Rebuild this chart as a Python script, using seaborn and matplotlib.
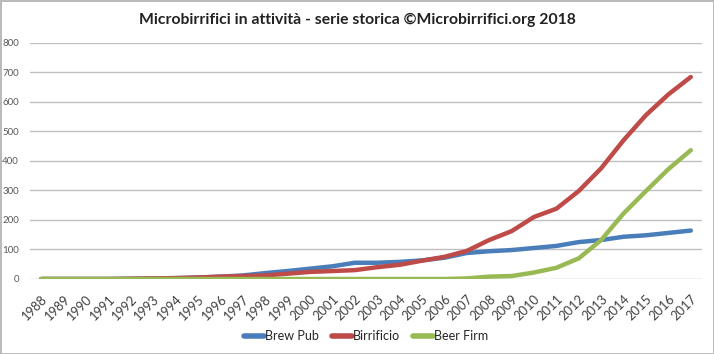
import pandas as pd
import seaborn as sns
import matplotlib.pyplot as plt

years = list(range(1988, 2018))
brew_pub = [0, 0, 0, 0, 1, 2, 3, 5, 8, 12, 20, 27, 35, 43, 55, 55, 58, 63, 72, 88,
            94, 98, 105, 112, 125, 132, 143, 148, 156, 164]
birrificio = [0, 0, 0, 0, 1, 2, 3, 5, 8, 10, 12, 18, 24, 27, 30, 40, 48, 62, 75, 95,
              132, 162, 210, 238, 298, 375, 470, 555, 625, 684]
beer_firm = [0, 0, 0, 0, 0, 0, 0, 0, 0, 0, 0, 0, 0, 0, 0, 0, 0, 0, 0, 2,
             8, 10, 22, 38, 70, 132, 222, 298, 372, 436]
series = ["Brew Pub", "Birrificio", "Beer Firm"]
colors = ["#4A7EBB", "#BE4B48", "#98B954"]

df = pd.DataFrame({"anno": years * 3,
                   "valore": brew_pub + birrificio + beer_firm,
                   "serie": [s for s in series for _ in years]})
df["pos"] = df["anno"] - years[0]

sns.set_theme(style="white")
plt.rcParams['font.family'] = ['Lato', 'DejaVu Sans']

fig = plt.figure(figsize=(7.14, 3.54), dpi=100)
ax = fig.add_axes([30 / 714, 1 - 279 / 354, 672 / 714, (279 - 42.7) / 354])

sns.lineplot(data=df, x="pos", y="valore", hue="serie", hue_order=series,
             palette=colors, linewidth=3.2, ax=ax, legend=True)

ax.set_xlim(-0.5, len(years) - 0.5)
ax.set_ylim(0, 800)
ax.set_yticks(range(0, 801, 100))
ax.set_yticklabels([str(v) for v in range(0, 801, 100)], fontsize=7, color="#595959")
ax.set_xticks(range(len(years)))
ax.set_xticklabels([str(y) for y in years], rotation=45, ha="right",
                   rotation_mode="anchor", fontsize=9.3, color="#404040")
ax.tick_params(axis="y", length=0, pad=8)
ax.tick_params(axis="x", length=0, pad=10)
ax.grid(axis="y", color="#C0C0C0", linewidth=1)
ax.set_axisbelow(True)
for s in ax.spines.values():
    s.set_visible(False)
ax.set_xlabel("")
ax.set_ylabel("")

fig.suptitle("Microbirrifici in attività - serie storica ©Microbirrifici.org 2018",
             y=1 - 20 / 354, va="center", fontsize=11.3, fontweight="bold", color="#222222")

leg = ax.legend(loc="center", bbox_to_anchor=(0.5, (279 - 336) / (279 - 42.7)), ncol=3,
                frameon=False, fontsize=9, handlelength=1.6, columnspacing=1.0,
                handletextpad=0.1)
for line in leg.get_lines():
    line.set_linewidth(4)

fig.patch.set_edgecolor("#BBBBBB")
fig.patch.set_linewidth(2)
fig.savefig("out.png", dpi=100, edgecolor=fig.get_edgecolor())
